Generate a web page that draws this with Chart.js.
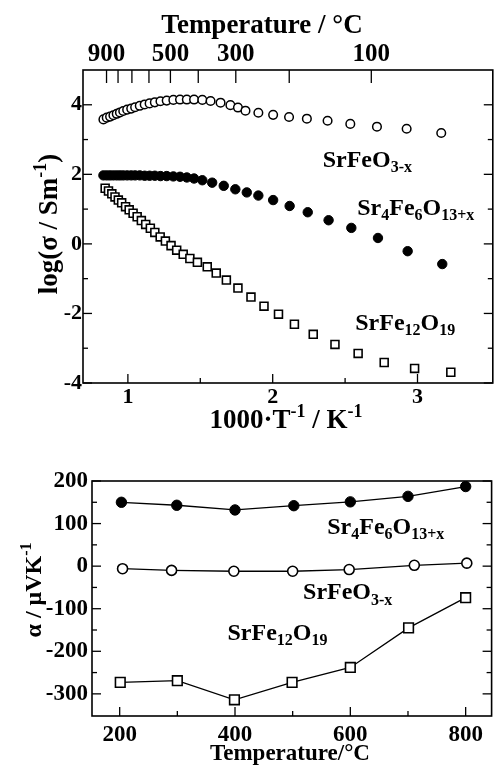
<!DOCTYPE html>
<html>
<head>
<meta charset="utf-8">
<script src="https://cdn.jsdelivr.net/npm/chart.js@4.4.1/dist/chart.umd.min.js"></script>
<style>
html,body{margin:0;padding:0;background:#fff;}
#wrap{position:relative;width:500px;height:769px;overflow:hidden;}
#c1{position:absolute;left:0;top:0;}
#c2{position:absolute;left:0;top:450px;}
</style>
</head>
<body>
<div id="wrap">
  <canvas id="c1" width="500" height="450"></canvas>
  <canvas id="c2" width="500" height="319"></canvas>
</div>
<script>
// =====================
// upper panel: log(conductivity) vs 1000/T
// =====================
const invT_SrFeO3 = [0.831,0.854,0.877,0.900,0.923,0.945,0.968,0.995,1.023,1.050,1.082,1.116,1.150,1.186,1.225,1.268,1.314,1.360,1.407,1.457,1.514,1.571,1.640,1.708,1.760,1.812,1.901,2.003,2.113,2.236,2.379,2.536,2.720,2.925,3.164];
const logSig_SrFeO3 = [3.58,3.63,3.66,3.70,3.74,3.78,3.82,3.86,3.89,3.93,3.97,4.01,4.04,4.07,4.10,4.12,4.14,4.15,4.15,4.15,4.14,4.11,4.06,3.99,3.92,3.83,3.77,3.71,3.65,3.60,3.54,3.45,3.37,3.31,3.19];

const invT_Sr4Fe6 = [0.831,0.854,0.877,0.900,0.923,0.945,0.968,0.995,1.023,1.050,1.082,1.116,1.150,1.186,1.225,1.268,1.314,1.360,1.407,1.457,1.514,1.582,1.662,1.742,1.821,1.901,2.003,2.117,2.242,2.386,2.543,2.727,2.932,3.171];
const logSig_Sr4Fe6 = [1.97,1.97,1.97,1.97,1.97,1.97,1.97,1.97,1.97,1.97,1.97,1.96,1.96,1.96,1.95,1.95,1.94,1.93,1.91,1.88,1.83,1.76,1.67,1.57,1.48,1.39,1.26,1.09,0.91,0.68,0.46,0.17,-0.21,-0.58];

const invT_SrFe12 = [0.843,0.866,0.889,0.911,0.934,0.957,0.984,1.009,1.036,1.064,1.093,1.123,1.155,1.186,1.223,1.259,1.298,1.337,1.382,1.428,1.480,1.548,1.610,1.680,1.760,1.850,1.940,2.040,2.150,2.280,2.430,2.590,2.770,2.980,3.230];
const logSig_SrFe12 = [1.60,1.52,1.44,1.35,1.26,1.18,1.07,0.98,0.88,0.78,0.67,0.56,0.45,0.33,0.20,0.08,-0.05,-0.18,-0.30,-0.42,-0.53,-0.66,-0.84,-1.04,-1.27,-1.53,-1.79,-2.02,-2.31,-2.60,-2.89,-3.15,-3.41,-3.58,-3.69];

// =====================
// lower panel: Seebeck coefficient vs temperature
// =====================
const temp_Sr4Fe6  = [203,299,400,502,600,700,800];
const alpha_Sr4Fe6 = [150,143,132,142,151,164,187];
const temp_SrFeO3  = [205,290,398,500,598,711,802];
const alpha_SrFeO3 = [-6,-10,-12,-12,-8,2,7];
const temp_SrFe12  = [201,300,399,499,600,701,800];
const alpha_SrFe12 = [-273,-269,-314,-273,-238,-145,-74];

// ticks
const upXTicks = [1,1.5,2,2.5,3];
const upXLabels = [1,2,3];
const upTempTicks = [900,800,700,600,500,400,300,200,100];
const upTempLabels = [900,500,300,100];
const upYTicks = [-4,-3,-2,-1,0,1,2,3,4];
const upYLabels = [-4,-2,0,2,4];
const loXTicks = [200,300,400,500,600,700,800];
const loXLabels = [200,400,600,800];
const loYTicks = [200,150,100,50,0,-50,-100,-150,-200,-250,-300];
const loYLabels = [200,100,0,-100,-200,-300];

// names
const nameSrFeO3 = 'SrFeO_{3-x}';
const nameSr4Fe6 = 'Sr_{4}Fe_{6}O_{13+x}';
const nameSrFe12 = 'SrFe_{12}O_{19}';

const FAM = '"Liberation Serif", "DejaVu Serif", serif';
function font(size){ return 'bold ' + size + 'px ' + FAM; }
function pts(xs, ys){ return xs.map((x,i)=>({x:x, y:ys[i]})); }
function toInv(t){ return 1000/(t+273); }

// a_{b} = subscript, a^{b} = superscript
function parseRich(str){
  const out=[]; const re=/([_^])\{([^}]*)\}|([^_^]+)/g; let m;
  while((m=re.exec(str))){
    if(m[3]) out.push({t:m[3],k:0});
    else out.push({t:m[2],k:m[1]==='_'?1:-1});
  }
  return out;
}
function drawRich(ctx, str, x, y, size, align, rot){
  const segs = parseRich(str);
  const small = Math.round(size*0.68);
  let w = 0;
  segs.forEach(s=>{ ctx.font = font(s.k?small:size); s.w = ctx.measureText(s.t).width; w += s.w; });
  ctx.save();
  ctx.translate(x,y);
  if(rot) ctx.rotate(rot);
  ctx.fillStyle='#000'; ctx.textAlign='left'; ctx.textBaseline='alphabetic';
  let cx = align==='center' ? -w/2 : 0;
  segs.forEach(s=>{
    ctx.font = font(s.k?small:size);
    const dy = s.k===1 ? size*0.22 : (s.k===-1 ? -size*0.40 : 0);
    ctx.fillText(s.t, cx, dy);
    cx += s.w;
  });
  ctx.restore();
}

// frame, inward ticks and text labels (config kept out of chart options)
function makeDecor(cfg){
  return {
    id:'panelDecor',
    afterDraw(chart){
      const ctx = chart.ctx, a = chart.chartArea;
      ctx.save();
      ctx.strokeStyle='#000';
      ctx.lineWidth=1.6;
      ctx.strokeRect(a.left, a.top, a.right-a.left, a.bottom-a.top);
      ctx.lineWidth=1.3;
      cfg.marks.forEach(m=>{
        const sc = chart.scales[m.scale];
        m.values.forEach(v=>{
          const p = sc.getPixelForValue(m.map ? m.map(v) : v);
          const L = m.len(v);
          m.edges.forEach(e=>{
            ctx.beginPath();
            if(e==='bottom'){ ctx.moveTo(p,a.bottom); ctx.lineTo(p,a.bottom-L); }
            if(e==='top'){ ctx.moveTo(p,a.top); ctx.lineTo(p,a.top+L); }
            if(e==='left'){ ctx.moveTo(a.left,p); ctx.lineTo(a.left+L,p); }
            if(e==='right'){ ctx.moveTo(a.right,p); ctx.lineTo(a.right-L,p); }
            ctx.stroke();
          });
        });
      });
      ctx.restore();
      cfg.labels.forEach(l=>{
        const x = chart.scales.x.getPixelForValue(l.x);
        const y = chart.scales.y.getPixelForValue(l.y);
        drawRich(ctx, l.text, x, y, l.size, 'left');
      });
      cfg.titles.forEach(t=>{
        drawRich(ctx, t.text, t.x, t.y, t.size, 'center', t.rot);
      });
    }
  };
}

Chart.defaults.font.family = FAM;
Chart.defaults.color = '#000';

function setTicks(vals){ return s=>{ s.ticks = vals.map(v=>({value:v})); }; }
const noGrid = {display:false, drawTicks:false, tickLength:0};

// upper chart
new Chart(document.getElementById('c1'), {
  type:'scatter',
  data:{datasets:[
    {data:pts(invT_SrFe12, logSig_SrFe12), pointStyle:'rect', pointRadius:5.6,
     backgroundColor:'#fff', borderColor:'#000', borderWidth:1.6},
    {data:pts(invT_Sr4Fe6, logSig_Sr4Fe6), pointStyle:'circle', pointRadius:4.7,
     backgroundColor:'#000', borderColor:'#000', borderWidth:1},
    {data:pts(invT_SrFeO3, logSig_SrFeO3), pointStyle:'circle', pointRadius:4.3,
     backgroundColor:'#fff', borderColor:'#000', borderWidth:1.5}
  ]},
  options:{
    responsive:false, animation:false, devicePixelRatio:1,
    layout:{padding:{left:0,right:3,top:0,bottom:0}},
    plugins:{legend:{display:false}, tooltip:{enabled:false}},
    scales:{
      x:{type:'linear', position:'bottom', min:0.69, max:3.52,
         grid:noGrid, border:{display:false},
         ticks:{font:{size:22, weight:'bold'}, padding:1, autoSkip:false, maxRotation:0},
         afterBuildTicks:setTicks(upXLabels),
         afterFit:s=>{ s.height = 67; }},
      x2:{type:'linear', axis:'x', position:'top', min:0.69, max:3.52,
         grid:noGrid, border:{display:false},
         ticks:{font:{size:25, weight:'bold'}, padding:0, autoSkip:false, maxRotation:0,
                callback:v=>Math.round(1000/v-273)},
         afterBuildTicks:setTicks(upTempLabels.map(toInv)),
         afterFit:s=>{ s.height = 70; }},
      y:{type:'linear', min:-4, max:5,
         grid:noGrid, border:{display:false},
         ticks:{font:{size:22, weight:'bold'}, padding:1, autoSkip:false},
         afterBuildTicks:setTicks(upYLabels),
         afterFit:s=>{ s.width = 83; }}
    }
  },
  plugins:[makeDecor({
    marks:[
      {scale:'x', values:upXTicks, edges:['bottom'], len:v=>Number.isInteger(v)?9:5},
      {scale:'x', values:upTempTicks, map:toInv, edges:['top'], len:v=>13},
      {scale:'y', values:upYTicks, edges:['left','right'], len:v=>v%2===0?9:5}
    ],
    labels:[
      {text:nameSrFeO3, x:2.345, y:2.22, size:24},
      {text:nameSr4Fe6, x:2.584, y:0.83, size:24},
      {text:nameSrFe12, x:2.57, y:-2.48, size:24}
    ],
    titles:[
      {text:'Temperature / °C', x:262, y:33, size:27},
      {text:'1000·T^{-1} / K^{-1}', x:286, y:428, size:27},
      {text:'log(σ / Sm^{-1})', x:57, y:224, size:27, rot:-Math.PI/2}
    ]
  })]
});

// lower chart
new Chart(document.getElementById('c2'), {
  type:'scatter',
  data:{datasets:[
    {data:pts(temp_Sr4Fe6, alpha_Sr4Fe6), showLine:true, borderColor:'#000', borderWidth:1.3,
     pointStyle:'circle', pointRadius:5.2, pointBackgroundColor:'#000', pointBorderColor:'#000', pointBorderWidth:1},
    {data:pts(temp_SrFeO3, alpha_SrFeO3), showLine:true, borderColor:'#000', borderWidth:1.3,
     pointStyle:'circle', pointRadius:5, pointBackgroundColor:'#fff', pointBorderColor:'#000', pointBorderWidth:1.6},
    {data:pts(temp_SrFe12, alpha_SrFe12), showLine:true, borderColor:'#000', borderWidth:1.3,
     pointStyle:'rect', pointRadius:6.8, pointBackgroundColor:'#fff', pointBorderColor:'#000', pointBorderWidth:1.6}
  ]},
  options:{
    responsive:false, animation:false, devicePixelRatio:1,
    layout:{padding:{left:0,right:1,top:31,bottom:0}},
    plugins:{legend:{display:false}, tooltip:{enabled:false}},
    scales:{
      x:{type:'linear', min:152, max:845,
         grid:noGrid, border:{display:false},
         ticks:{font:{size:23, weight:'bold'}, padding:5, autoSkip:false, maxRotation:0},
         afterBuildTicks:setTicks(loXLabels),
         afterFit:s=>{ s.height = 53; }},
      y:{type:'linear', min:-352, max:200,
         grid:noGrid, border:{display:false},
         ticks:{font:{size:23, weight:'bold'}, padding:4, autoSkip:false},
         afterBuildTicks:setTicks(loYLabels),
         afterFit:s=>{ s.width = 92; }}
    }
  },
  plugins:[makeDecor({
    marks:[
      {scale:'x', values:loXTicks, edges:['bottom'], len:v=>v%200===0?9:5},
      {scale:'y', values:loYTicks, edges:['left','right'], len:v=>v%100===0?9:5}
    ],
    labels:[
      {text:nameSr4Fe6, x:560, y:75, size:24},
      {text:nameSrFeO3, x:518, y:-78, size:24},
      {text:nameSrFe12, x:387, y:-173, size:24}
    ],
    titles:[
      {text:'Temperature/°C', x:290, y:310, size:23},
      {text:'α / μVK^{-1}', x:41, y:140, size:24, rot:-Math.PI/2}
    ]
  })]
});
</script>
</body>
</html>
